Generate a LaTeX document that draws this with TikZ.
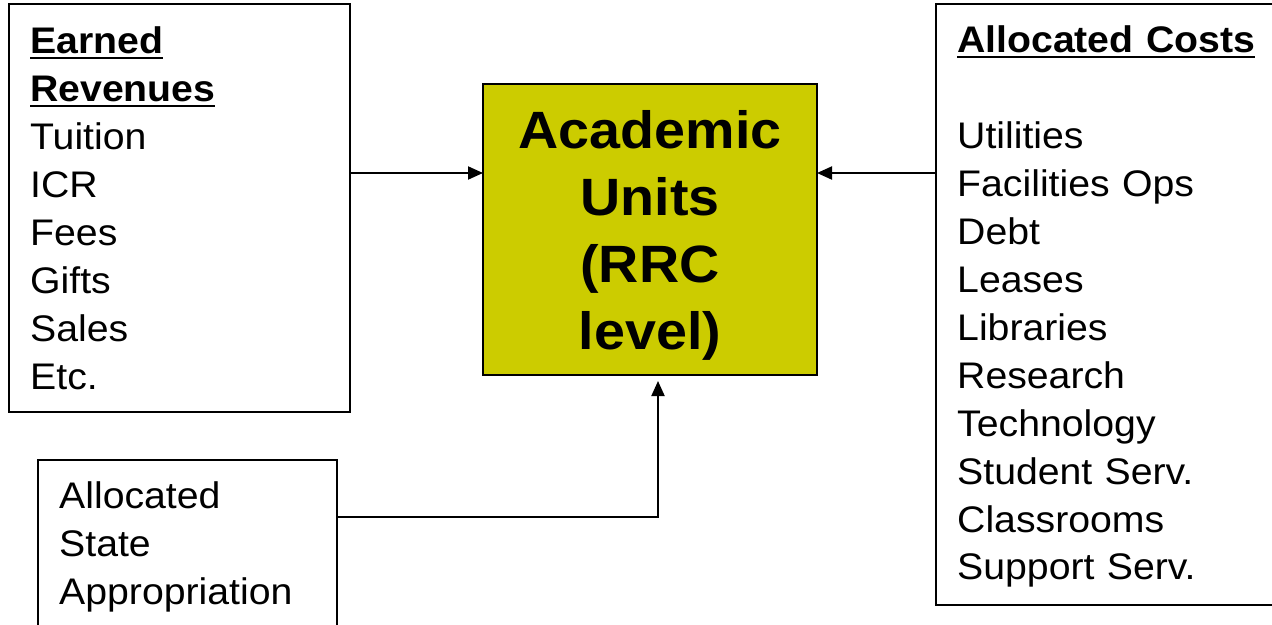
\documentclass[tikz,border=0pt]{standalone}
\usepackage{fontspec}
\setmainfont{Liberation Sans}[FakeStretch=1.06]
\usetikzlibrary{arrows.meta}
\definecolor{unitfill}{RGB}{204,204,0}
% bold heading with a thin rule a little below the baseline
\newcommand\headul[1]{\leavevmode\setbox0\hbox{\bfseries #1}\rlap{\rule[-5.5pt]{\wd0}{1.6pt}}\box0}
\begin{document}
\begin{tikzpicture}[x=1pt,y=-1pt,
  box/.style={draw,line width=2.2pt,inner sep=0pt,outer sep=0pt,anchor=north west},
  listtxt/.style={inner sep=0pt,anchor=base west,align=left,text width=#1,
    font=\fontsize{37}{48}\selectfont},
  conn/.style={line width=2pt,-{Triangle[length=15pt,width=13pt]}}]
\useasboundingbox (0,0) rectangle (1272,624);
\clip (0,0) rectangle (1272,624);

% boxes
\node[box,minimum width=341pt,minimum height=408pt] (rev) at (9,4) {};
\node[box,fill=unitfill,minimum width=334pt,minimum height=291pt] (unit) at (483,84) {};
\node[box,minimum width=360pt,minimum height=601pt] (cost) at (936,4) {};
\node[box,minimum width=299pt,minimum height=200pt] (state) at (38,460) {};

% texts
\node[listtxt=310pt] (revtxt) at (30,53)
  {\headul{Earned}\\\headul{Revenues}\\Tuition\\ICR\\Fees\\Gifts\\Sales\\Etc.};
\node[listtxt=310pt] (costtxt) at (957,52)
  {\headul{Allocated Costs}\\[48pt]Utilities\\Facilities Ops\\Debt\\Leases\\Libraries\\Research\\Technology\\Student Serv.\\Classrooms\\Support Serv.};
\node[listtxt=270pt] (statetxt) at (59,508)
  {Allocated\\State\\Appropriation};
\node[inner sep=0pt,anchor=base,align=center,text width=330pt,
  font=\bfseries\fontsize{52.5}{67}\selectfont] (unittxt) at (650,148)
  {Academic\\Units\\(RRC\\level)};

% connectors
\coordinate (lvl) at (0,173);
\coordinate (statelvl) at (0,517);
\coordinate (feed) at (658,381);
\draw[conn] (rev.east |- lvl) -- (unit.west |- lvl);
\draw[conn] (cost.west |- lvl) -- (unit.east |- lvl);
\draw[conn] (state.east |- statelvl) -| (feed);
\end{tikzpicture}
\end{document}
